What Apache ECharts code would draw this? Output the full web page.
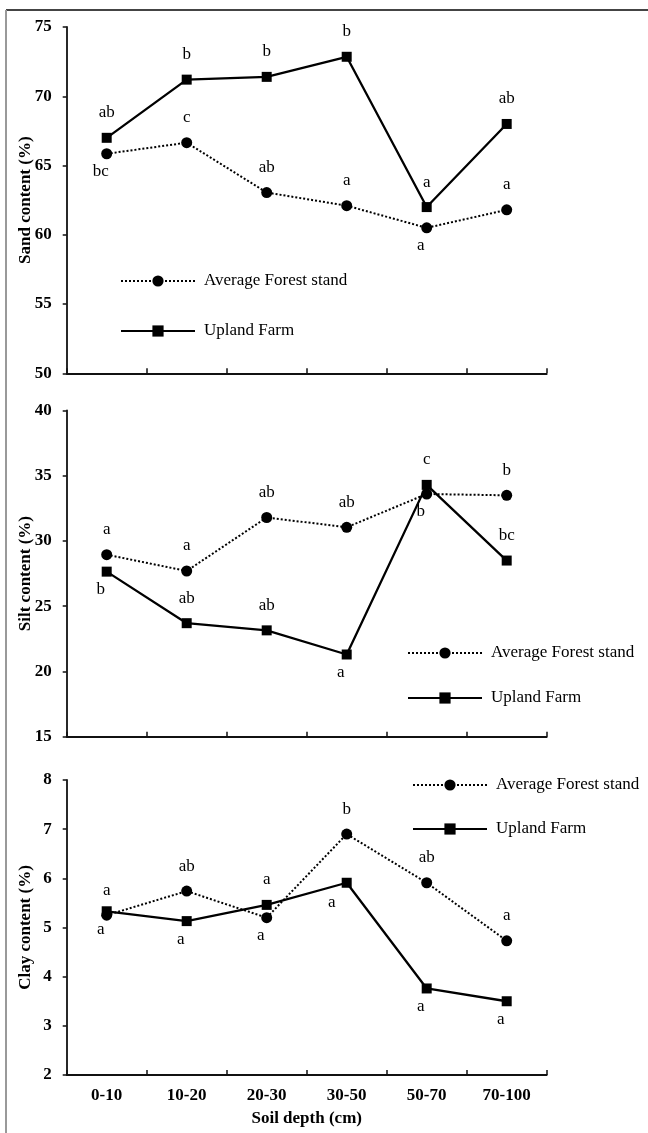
<!DOCTYPE html>
<html>
<head>
<meta charset="utf-8">
<script src="https://cdn.jsdelivr.net/npm/echarts@6/dist/echarts.min.js"></script>
<style>
html,body{margin:0;padding:0;background:#fff;}
#chart{width:648px;height:1133px;}
</style>
</head>
<body>
<div id="chart"></div>
<script>
// ---- data ----
const categories = ['0-10', '10-20', '20-30', '30-50', '50-70', '70-100'];
const seriesNames = ['Average Forest stand', 'Upland Farm'];

const sandForest = [65.85, 66.65, 63.05, 62.1, 60.5, 61.8];
const sandFarm   = [67.0, 71.2, 71.4, 72.85, 62.0, 68.0];
const siltForest = [28.95, 27.7, 31.8, 31.05, 33.6, 33.5];
const siltFarm   = [27.65, 23.7, 23.15, 21.3, 34.3, 28.5];
const clayForest = [5.25, 5.74, 5.2, 6.9, 5.91, 4.73];
const clayFarm   = [5.33, 5.13, 5.46, 5.91, 3.76, 3.5];

// significance letters
const sandForestSig = ['bc', 'c', 'ab', 'a', 'a', 'a'];
const sandFarmSig   = ['ab', 'b', 'b', 'b', 'a', 'ab'];
const siltForestSig = ['a', 'a', 'ab', 'ab', 'b', 'b'];
const siltFarmSig   = ['b', 'ab', 'ab', 'a', 'c', 'bc'];
const clayForestSig = ['a', 'ab', 'a', 'b', 'ab', 'a'];
const clayFarmSig   = ['a', 'a', 'a', 'a', 'a', 'a'];

// ---- annotation placement (t = above, b = below, l = below-left) ----
const sandForestSide = ['b', 't', 't', 't', 'b', 't'];
const sandFarmSide   = ['t', 't', 't', 't', 't', 't'];
const siltForestSide = ['t', 't', 't', 't', 'b', 't'];
const siltFarmSide   = ['b', 't', 't', 'b', 't', 't'];
const clayForestSide = ['t', 't', 'b', 't', 't', 't'];
const clayFarmSide   = ['b', 'b', 't', 'l', 'b', 'b'];

const FONT = "'Liberation Serif','Times New Roman',serif";
const OFFSETS = { t: [0, -25], b: [-6, 18], l: [-15, 20] };

function mkSeries(gi, forest, values, sig, sides) {
  return {
    type: 'line',
    name: forest ? seriesNames[0] : seriesNames[1],
    xAxisIndex: gi, yAxisIndex: gi,
    data: values.map((v, i) => ({
      value: v,
      label: { offset: OFFSETS[sides[i]] }
    })),
    symbol: forest ? 'circle' : 'rect',
    symbolSize: forest ? 11 : 10,
    lineStyle: { color: '#000', width: forest ? 2 : 2.3, type: forest ? [2, 2] : 'solid' },
    itemStyle: { color: '#000' },
    label: {
      show: true, position: 'inside', color: '#000',
      fontFamily: FONT, fontSize: 17,
      formatter: p => sig[p.dataIndex]
    },
    emphasis: { disabled: true },
    animation: false,
    z: forest ? 3 : 2
  };
}

const grids = [
  { left: 66.7, top: 27, width: 480, height: 346.3 },
  { left: 66.7, top: 410.5, width: 480, height: 326.2 },
  { left: 66.7, top: 780, width: 480, height: 295 }
];
const yDefs = [
  { min: 50, max: 75, interval: 5, name: 'Sand content (%)' },
  { min: 15, max: 40, interval: 5, name: 'Silt content (%)' },
  { min: 2, max: 8, interval: 1, name: 'Clay content (%)' }
];
const axisLine = { lineStyle: { color: '#111', width: 1.8 } };

const xAxes = grids.map((g, i) => ({
  type: 'category', gridIndex: i, data: categories, boundaryGap: true,
  axisLine: axisLine,
  axisTick: { show: true, inside: true, length: 5, interval: 0, lineStyle: { color: '#111', width: 1.5 } },
  axisLabel: { show: i === 2, margin: 12, color: '#000', fontFamily: FONT, fontSize: 17, fontWeight: 'bold', interval: 0 },
  name: i === 2 ? 'Soil depth (cm)' : '',
  nameLocation: 'middle', nameGap: 35, nameMoveOverlap: false,
  nameTextStyle: { color: '#000', fontFamily: FONT, fontSize: 17, fontWeight: 'bold' },
  splitLine: { show: false }
}));
const yAxes = yDefs.map((d, i) => ({
  type: 'value', gridIndex: i, min: d.min, max: d.max, interval: d.interval,
  axisLine: Object.assign({ show: true }, axisLine),
  axisTick: { show: true, inside: false, length: 4, lineStyle: { color: '#111', width: 1.5 } },
  axisLabel: { margin: 15, color: '#000', fontFamily: FONT, fontSize: 17, fontWeight: 'bold' },
  splitLine: { show: false },
  name: d.name, nameLocation: 'middle', nameGap: 33, nameRotate: 90, nameMoveOverlap: false,
  nameTextStyle: { color: '#000', fontFamily: FONT, fontSize: 17, fontWeight: 'bold' }
}));

const legendPos = [
  { left: 120, top: 272, itemGap: 32 },
  { left: 407, top: 644, itemGap: 27 },
  { left: 412, top: 776, itemGap: 26 }
];
const legends = legendPos.map(p => ({
  data: seriesNames, orient: 'vertical', left: p.left, top: p.top, itemGap: p.itemGap,
  itemWidth: 74, itemHeight: 14, selectedMode: false, padding: 0,
  textStyle: { color: '#000', fontFamily: FONT, fontSize: 17, lineHeight: 18, padding: [0, 0, 0, 4] }
}));

const option = {
  backgroundColor: '#fff',
  animation: false,
  grid: grids,
  xAxis: xAxes,
  yAxis: yAxes,
  legend: legends,
  graphic: [
    { type: 'line', shape: { x1: 6, y1: 10, x2: 648, y2: 10 }, style: { stroke: '#444', lineWidth: 2 } },
    { type: 'line', shape: { x1: 6, y1: 10, x2: 6, y2: 1133 }, style: { stroke: '#999', lineWidth: 2 } }
  ],
  series: [
    mkSeries(0, true, sandForest, sandForestSig, sandForestSide),
    mkSeries(0, false, sandFarm, sandFarmSig, sandFarmSide),
    mkSeries(1, true, siltForest, siltForestSig, siltForestSide),
    mkSeries(1, false, siltFarm, siltFarmSig, siltFarmSide),
    mkSeries(2, true, clayForest, clayForestSig, clayForestSide),
    mkSeries(2, false, clayFarm, clayFarmSig, clayFarmSide)
  ]
};

const chart = echarts.init(document.getElementById('chart'), null, { renderer: 'canvas' });
chart.setOption(option);
</script>
</body>
</html>
